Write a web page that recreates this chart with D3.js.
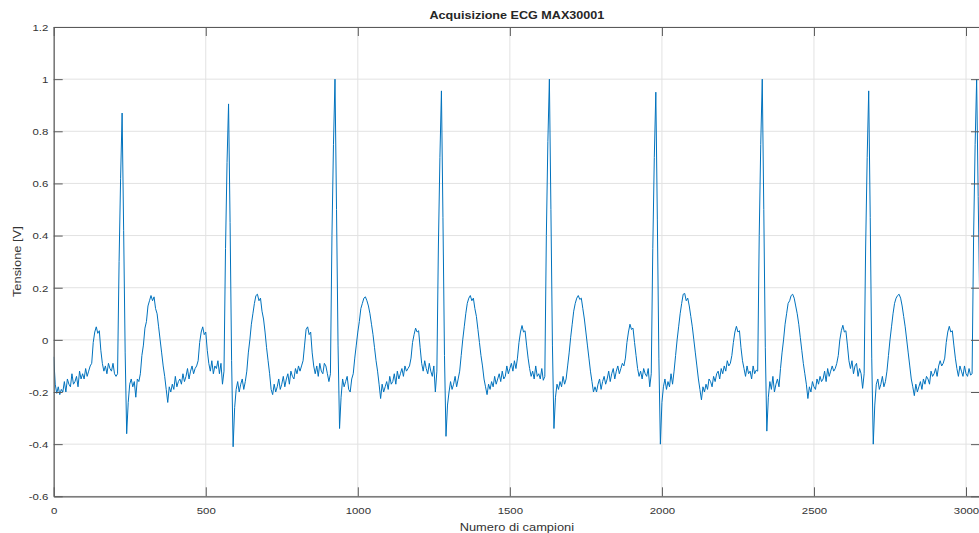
<!DOCTYPE html>
<html>
<head>
<meta charset="utf-8">
<script src="https://cdn.jsdelivr.net/npm/d3@7"></script>
<style>
  body { margin: 0; background: #fff; }
  text { font-family: "Liberation Sans", Arial, sans-serif; fill: #262626; }
</style>
</head>
<body>
<div id="chart"></div>
<script>
// ECG acquisition, one value every 5 samples
var sampleStep = 5;
var xMax = 3046;

var tension = [
  // start, end of a T wave, baseline, P wave
  -0.065, -0.17, -0.205, -0.18, -0.21, -0.19, -0.20, -0.16, -0.20, -0.15,
  -0.17, -0.18, -0.13, -0.17, -0.16, -0.14, -0.18, -0.12, -0.15, -0.13,
  -0.15, -0.11, -0.14, -0.12, -0.10, -0.09, -0.01, 0.03, 0.05, 0.025,
  0.035, -0.04, -0.09, -0.12, -0.10, -0.13, -0.09, -0.11, -0.12, -0.09,
  -0.13, -0.14,
  // beat 1
  -0.13, 0.30, 0.62, 0.87, 0.42, -0.05, -0.36, -0.24, -0.17, -0.15,
  -0.18, -0.16, -0.22, -0.15, -0.16, -0.13, -0.06, -0.02, 0.045, 0.07,
  0.13, 0.15, 0.17, 0.15, 0.165, 0.12, 0.10, 0.05, 0.0, -0.05,
  -0.10, -0.14, -0.19, -0.24, -0.18, -0.20, -0.17, -0.19, -0.14, -0.18,
  -0.16, -0.15, -0.17, -0.13, -0.16, -0.14, -0.11, -0.15, -0.12, -0.10,
  -0.13, -0.11, -0.10, -0.08, -0.01, 0.03, 0.05, 0.02, 0.03, -0.04,
  -0.09, -0.12, -0.08, -0.13, -0.10, -0.11, -0.08, -0.13, -0.09, -0.17,
  // beat 2
  -0.12, 0.35, 0.68, 0.905, 0.45, -0.08, -0.41, -0.26, -0.19, -0.16,
  -0.20, -0.17, -0.15, -0.19, -0.16, -0.12, -0.05, 0.0, 0.06, 0.10,
  0.14, 0.17, 0.175, 0.15, 0.16, 0.11, 0.08, 0.03, -0.03, -0.08,
  -0.13, -0.19, -0.21, -0.17, -0.20, -0.18, -0.15, -0.19, -0.17, -0.14,
  -0.18, -0.15, -0.13, -0.17, -0.12, -0.14, -0.15, -0.11, -0.13, -0.10,
  -0.12, -0.10, -0.08, -0.02, 0.04, 0.05, 0.02, 0.03, -0.05, -0.10,
  -0.13, -0.10, -0.14, -0.09, -0.12, -0.13, -0.09, -0.10, -0.13, -0.16,
  // beat 3
  -0.13, 0.40, 0.75, 1.0, 0.50, -0.02, -0.34, -0.22, -0.15, -0.18,
  -0.16, -0.14, -0.19, -0.20, -0.15, -0.13, -0.07, -0.02, 0.03, 0.07,
  0.12, 0.14, 0.16, 0.165, 0.15, 0.13, 0.10, 0.06, 0.02, -0.03,
  -0.08, -0.12, -0.17, -0.225, -0.17, -0.20, -0.18, -0.16, -0.19, -0.14,
  -0.17, -0.16, -0.13, -0.17, -0.12, -0.15, -0.13, -0.11, -0.14, -0.10,
  -0.12, -0.11, -0.10, -0.07, -0.01, 0.02, 0.045, 0.03, 0.035, -0.03,
  -0.09, -0.12, -0.08, -0.11, -0.13, -0.09, -0.12, -0.14, -0.10, -0.20,
  // beat 4
  -0.12, 0.36, 0.70, 0.955, 0.47, -0.06, -0.37, -0.25, -0.20, -0.16,
  -0.19, -0.17, -0.14, -0.18, -0.15, -0.12, -0.06, 0.0, 0.05, 0.10,
  0.14, 0.16, 0.17, 0.15, 0.16, 0.12, 0.09, 0.04, -0.01, -0.06,
  -0.10, -0.15, -0.18, -0.21, -0.17, -0.19, -0.16, -0.18, -0.14, -0.17,
  -0.15, -0.13, -0.16, -0.12, -0.15, -0.14, -0.10, -0.13, -0.11, -0.09,
  -0.12, -0.08, -0.11, -0.07, -0.01, 0.03, 0.055, 0.03, 0.035, -0.02,
  -0.07, -0.11, -0.14, -0.12, -0.15, -0.10, -0.14, -0.13, -0.15, -0.11,
  -0.155,
  // beat 5
  -0.14, 0.40, 0.76, 1.0, 0.50, -0.02, -0.34, -0.22, -0.17, -0.19,
  -0.16, -0.18, -0.14, -0.17, -0.15, -0.10, -0.05, 0.01, 0.06, 0.11,
  0.14, 0.16, 0.17, 0.155, 0.16, 0.12, 0.08, 0.03, -0.02, -0.07,
  -0.12, -0.16, -0.20, -0.18, -0.20, -0.17, -0.15, -0.19, -0.16, -0.14,
  -0.17, -0.15, -0.12, -0.16, -0.13, -0.11, -0.15, -0.12, -0.10, -0.13,
  -0.11, -0.09, -0.10, -0.07, -0.01, 0.03, 0.06, 0.04, 0.045, -0.01,
  -0.06, -0.11, -0.14, -0.12, -0.15, -0.11, -0.13, -0.14, -0.11, -0.18,
  // beat 6
  -0.13, 0.35, 0.70, 0.95, 0.46, -0.07, -0.40, -0.24, -0.18, -0.15,
  -0.19, -0.16, -0.18, -0.13, -0.17, -0.12, -0.06, 0.0, 0.05, 0.10,
  0.14, 0.175, 0.178, 0.15, 0.16, 0.13, 0.09, 0.05, 0.0, -0.05,
  -0.10, -0.15, -0.19, -0.23, -0.18, -0.20, -0.17, -0.19, -0.15, -0.16,
  -0.18, -0.14, -0.16, -0.13, -0.12, -0.15, -0.11, -0.13, -0.10, -0.12,
  -0.08, -0.10, -0.09, -0.06, -0.01, 0.03, 0.052, 0.03, 0.035, -0.03,
  -0.08, -0.11, -0.14, -0.10, -0.13, -0.12, -0.15, -0.10, -0.13, -0.116,
  // beat 7
  -0.12, 0.40, 0.75, 1.0, 0.50, -0.03, -0.35, -0.22, -0.16, -0.19,
  -0.14, -0.20, -0.17, -0.15, -0.18, -0.11, -0.05, 0.0, 0.06, 0.10,
  0.14, 0.15, 0.17, 0.175, 0.16, 0.13, 0.10, 0.06, 0.01, -0.04,
  -0.09, -0.13, -0.17, -0.225, -0.18, -0.20, -0.16, -0.18, -0.19, -0.15,
  -0.17, -0.14, -0.16, -0.15, -0.12, -0.16, -0.11, -0.14, -0.12, -0.10,
  -0.12, -0.11, -0.09, -0.06, 0.0, 0.035, 0.056, 0.03, 0.035, -0.02,
  -0.08, -0.11, -0.08, -0.13, -0.10, -0.09, -0.14, -0.11, -0.13, -0.186,
  // beat 8
  -0.13, 0.36, 0.70, 0.955, 0.47, -0.07, -0.40, -0.25, -0.17, -0.15,
  -0.19, -0.17, -0.14, -0.18, -0.16, -0.12, -0.06, 0.0, 0.05, 0.10,
  0.14, 0.16, 0.17, 0.175, 0.16, 0.13, 0.09, 0.05, 0.0, -0.05,
  -0.10, -0.15, -0.18, -0.214, -0.17, -0.20, -0.18, -0.16, -0.19, -0.15,
  -0.17, -0.14, -0.15, -0.17, -0.12, -0.14, -0.13, -0.11, -0.14, -0.10,
  -0.08, -0.10, -0.09, -0.07, -0.01, 0.03, 0.052, 0.03, 0.035, -0.02,
  -0.07, -0.11, -0.14, -0.10, -0.12, -0.14, -0.10, -0.13, -0.14, -0.11,
  -0.135,
  // beat 9 (cut at the right edge)
  -0.13, 0.40, 0.75, 1.0, 0.55, 0.15
];

var xTicks = [0, 500, 1000, 1500, 2000, 2500, 3000];
var yTicks = [-0.6, -0.4, -0.2, 0, 0.2, 0.4, 0.6, 0.8, 1, 1.2];

var titleText = "Acquisizione ECG MAX30001";
var xLabel = "Numero di campioni";
var yLabel = "Tensione [V]";

var svgWidth = 979;
var svgHeight = 533;

var plot = { left: 53.7, right: 980, top: 27, bottom: 496.3 };
var tickLen = 9;
var axisColor = "#5a5a5a";

var svg = d3.select("#chart")
  .append("svg")
  .attr("width", svgWidth)
  .attr("height", svgHeight)
  .style("display", "block");

svg.append("rect")
  .attr("width", svgWidth)
  .attr("height", svgHeight)
  .attr("fill", "#fff");

var x = d3.scaleLinear().domain([0, xMax]).range([plot.left, plot.right]);
var y = d3.scaleLinear().domain([-0.6, 1.2]).range([plot.bottom, plot.top]);

// grid
var grid = svg.append("g").attr("stroke", "#e2e2e2").attr("stroke-width", 1);
grid.selectAll(".gx")
  .data(xTicks)
  .enter()
  .append("line")
  .attr("x1", d => x(d))
  .attr("x2", d => x(d))
  .attr("y1", plot.top)
  .attr("y2", plot.bottom);
grid.selectAll(".gy")
  .data(yTicks)
  .enter()
  .append("line")
  .attr("x1", plot.left)
  .attr("x2", plot.right)
  .attr("y1", d => y(d))
  .attr("y2", d => y(d));

// signal
svg.append("clipPath")
  .attr("id", "clip")
  .append("rect")
  .attr("x", plot.left)
  .attr("y", plot.top)
  .attr("width", plot.right - plot.left)
  .attr("height", plot.bottom - plot.top);

var line = d3.line()
  .x((d, i) => x(i * sampleStep))
  .y(d => y(d));

svg.append("path")
  .datum(tension)
  .attr("clip-path", "url(#clip)")
  .attr("fill", "none")
  .attr("stroke", "#0072BD")
  .attr("stroke-width", 1)
  .attr("stroke-linejoin", "round")
  .attr("d", line);

// axes, ticks pointing inward on all four sides
var fmt = d => String(d);

var bottomAxis = d3.axisBottom(x).tickValues(xTicks).tickSize(-tickLen).tickSizeOuter(0).tickFormat(fmt);
var leftAxis = d3.axisLeft(y).tickValues(yTicks).tickSize(-tickLen).tickSizeOuter(0).tickFormat(fmt);
var topAxis = d3.axisTop(x).tickValues(xTicks).tickSize(-tickLen).tickSizeOuter(0).tickFormat("");
var rightAxis = d3.axisRight(y).tickValues(yTicks).tickSize(-tickLen).tickSizeOuter(0).tickFormat("");

var gBottom = svg.append("g").attr("transform", `translate(0, ${plot.bottom})`).call(bottomAxis);
var gLeft = svg.append("g").attr("transform", `translate(${plot.left}, 0)`).call(leftAxis);
svg.append("g").attr("transform", `translate(0, ${plot.top})`).call(topAxis);
svg.append("g").attr("transform", `translate(${plot.right}, 0)`).call(rightAxis);

svg.selectAll(".domain").attr("stroke", axisColor).attr("stroke-width", 1.2);
svg.selectAll(".tick line").attr("stroke", axisColor).attr("stroke-width", 1);

gBottom.selectAll("text")
  .attr("y", null)
  .attr("dy", null)
  .attr("transform", "translate(0, 17.7) scale(1.2, 1)")
  .style("font-size", "9.5px")
  .style("fill", "#333");

gLeft.selectAll("text")
  .attr("x", null)
  .attr("dy", null)
  .attr("transform", "translate(-5.4, 3.4) scale(1.2, 1)")
  .style("font-size", "9.5px")
  .style("fill", "#333");

// title and labels
var midX = (plot.left + plot.right) / 2;
var midY = (plot.top + plot.bottom) / 2;

svg.append("text")
  .attr("transform", `translate(${midX}, 19.3) scale(1.26, 1)`)
  .attr("text-anchor", "middle")
  .style("font-size", "10px")
  .style("font-weight", "bold")
  .text(titleText);

svg.append("text")
  .attr("transform", `translate(${midX}, 530.7) scale(1.17, 1)`)
  .attr("text-anchor", "middle")
  .style("font-size", "11px")
  .style("fill", "#333")
  .text(xLabel);

svg.append("text")
  .attr("transform", `translate(20.6, ${midY}) rotate(-90) scale(1.17, 1)`)
  .attr("text-anchor", "middle")
  .style("font-size", "11px")
  .style("fill", "#333")
  .text(yLabel);
</script>
</body>
</html>
